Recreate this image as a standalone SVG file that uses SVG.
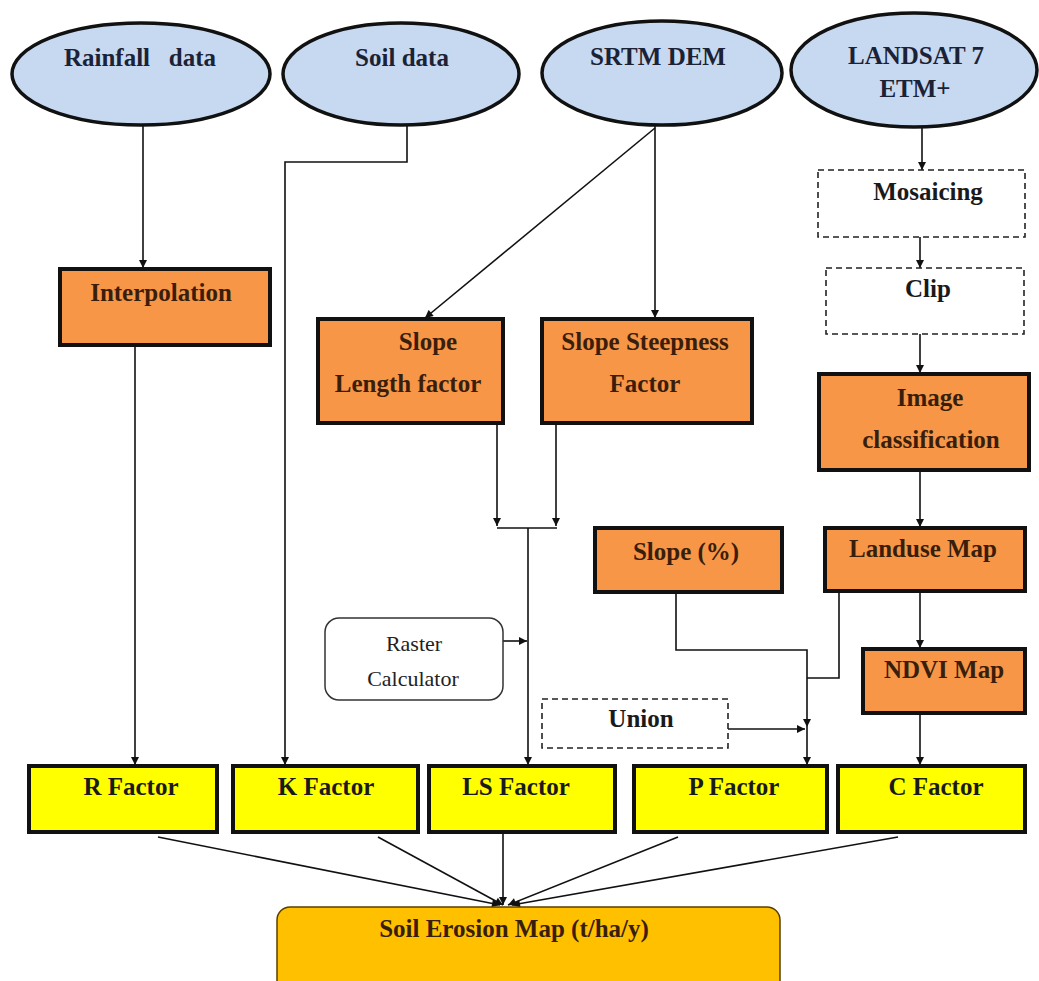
<svg xmlns="http://www.w3.org/2000/svg" width="1039" height="981" viewBox="0 0 1039 981">
<style>
.ell{fill:#C6D9F1;stroke:#111;stroke-width:3.5}
.org{fill:#F79646;stroke:#111;stroke-width:4}
.yel{fill:#FFFF00;stroke:#111;stroke-width:4}
.dash{fill:#fff;stroke:#222;stroke-width:1.6;stroke-dasharray:6 4}
.t{font-family:"Liberation Serif","Times New Roman",serif;font-weight:bold;font-size:25px;text-anchor:middle}
.te{fill:#1c2235}
.to{fill:#3a1e0c}
.ty{fill:#1a1a1a}
.tr{font-family:"Liberation Serif","Times New Roman",serif;font-size:22px;text-anchor:middle;fill:#222}
.c{fill:none;stroke:#111;stroke-width:1.6}
</style>
<defs>
<marker id="ah" viewBox="0 0 10 10" refX="10" refY="5" markerWidth="9" markerHeight="8" markerUnits="userSpaceOnUse" orient="auto">
<path d="M0,0 L10,5 L0,10 z" fill="#111"/>
</marker>
</defs>
<rect width="1039" height="981" fill="#fff"/>

<g id="connectors">
<path class="c" d="M143 126 V268" marker-end="url(#ah)"/>
<path class="c" d="M135 345 V765" marker-end="url(#ah)"/>
<path class="c" d="M407 126 V162 H285 V765" marker-end="url(#ah)"/>
<path class="c" d="M655 128 L425 318" marker-end="url(#ah)"/>
<path class="c" d="M655 126 V318" marker-end="url(#ah)"/>
<path class="c" d="M497 423 V526" marker-end="url(#ah)"/>
<path class="c" d="M556 423 V526" marker-end="url(#ah)"/>
<path class="c" d="M497 528 H557"/>
<path class="c" d="M528 528 V765" marker-end="url(#ah)"/>
<path class="c" d="M503 641 H527" marker-end="url(#ah)"/>
<path class="c" d="M922 128 V170" marker-end="url(#ah)"/>
<path class="c" d="M920 237 V268" marker-end="url(#ah)"/>
<path class="c" d="M920 334 V373" marker-end="url(#ah)"/>
<path class="c" d="M920 470 V527" marker-end="url(#ah)"/>
<path class="c" d="M920 591 V648" marker-end="url(#ah)"/>
<path class="c" d="M920 713 V765" marker-end="url(#ah)"/>
<path class="c" d="M676 567 V650 H807 V727" marker-end="url(#ah)"/>
<path class="c" d="M807 727 V765" marker-end="url(#ah)"/>
<path class="c" d="M839 591 V678 H807"/>
<path class="c" d="M728 729 H805" marker-end="url(#ah)"/>
<path class="c" d="M158 837 L500 905" marker-end="url(#ah)"/>
<path class="c" d="M378 837 L503 905" marker-end="url(#ah)"/>
<path class="c" d="M503 832 V905" marker-end="url(#ah)"/>
<path class="c" d="M678 837 L508 905" marker-end="url(#ah)"/>
<path class="c" d="M898 837 L512 905" marker-end="url(#ah)"/>
</g>

<g id="rainfall"><ellipse class="ell" cx="141" cy="74" rx="129" ry="51"/><text class="t te" x="140" y="66" style="white-space:pre">Rainfall   data</text></g>
<g id="soil"><ellipse class="ell" cx="401" cy="74" rx="118" ry="51"/><text class="t te" x="402" y="66">Soil data</text></g>
<g id="srtm"><ellipse class="ell" cx="662" cy="73" rx="120" ry="52"/><text class="t te" x="658" y="65">SRTM DEM</text></g>
<g id="landsat"><ellipse class="ell" cx="914" cy="70" rx="123" ry="57"/><text class="t te" x="916" y="64">LANDSAT 7</text><text class="t te" x="915" y="97">ETM+</text></g>

<g id="mosaicing"><rect class="dash" x="818" y="170" width="207" height="67"/><text class="t ty" x="928" y="200">Mosaicing</text></g>
<g id="clip"><rect class="dash" x="826" y="268" width="198" height="66"/><text class="t ty" x="928" y="297">Clip</text></g>
<g id="imageclass"><rect class="org" x="819" y="374" width="210" height="96"/><text class="t to" x="930" y="406">Image</text><text class="t to" x="931" y="448">classification</text></g>

<g id="interpolation"><rect class="org" x="60" y="269" width="210" height="76"/><text class="t to" x="161" y="301">Interpolation</text></g>
<g id="slopelength"><rect class="org" x="318" y="319" width="185" height="104"/><text class="t to" x="428" y="350">Slope</text><text class="t to" x="408" y="392">Length factor</text></g>
<g id="slopesteep"><rect class="org" x="542" y="319" width="210" height="104"/><text class="t to" x="645" y="350">Slope Steepness</text><text class="t to" x="645" y="392">Factor</text></g>

<g id="slopepct"><rect class="org" x="595" y="528" width="187" height="64"/><text class="t to" x="686" y="560">Slope (%)</text></g>
<g id="landuse"><rect class="org" x="825" y="528" width="200" height="63"/><text class="t to" x="923" y="557">Landuse Map</text></g>
<g id="ndvi"><rect class="org" x="863" y="649" width="162" height="64"/><text class="t to" x="944" y="678">NDVI Map</text></g>

<g id="raster"><rect x="325" y="618" width="178" height="82" rx="14" fill="#fff" stroke="#333" stroke-width="1.5"/><text class="tr" x="414" y="651">Raster</text><text class="tr" x="413" y="686">Calculator</text></g>
<g id="union"><rect class="dash" x="542" y="699" width="186" height="49"/><text class="t ty" x="641" y="727">Union</text></g>

<g id="rfactor"><rect class="yel" x="29" y="766" width="188" height="66"/><text class="t ty" x="131" y="795">R Factor</text></g>
<g id="kfactor"><rect class="yel" x="233" y="766" width="185" height="66"/><text class="t ty" x="326" y="795">K Factor</text></g>
<g id="lsfactor"><rect class="yel" x="429" y="766" width="186" height="66"/><text class="t ty" x="516" y="795">LS Factor</text></g>
<g id="pfactor"><rect class="yel" x="634" y="766" width="193" height="66"/><text class="t ty" x="734" y="795">P Factor</text></g>
<g id="cfactor"><rect class="yel" x="838" y="766" width="187" height="66"/><text class="t ty" x="936" y="795">C Factor</text></g>

<g id="erosion"><rect x="277" y="907" width="503" height="90" rx="13" fill="#FFC000" stroke="#5a4000" stroke-width="1.5"/><text class="t to" x="514" y="937">Soil Erosion Map (t/ha/y)</text></g>
</svg>
